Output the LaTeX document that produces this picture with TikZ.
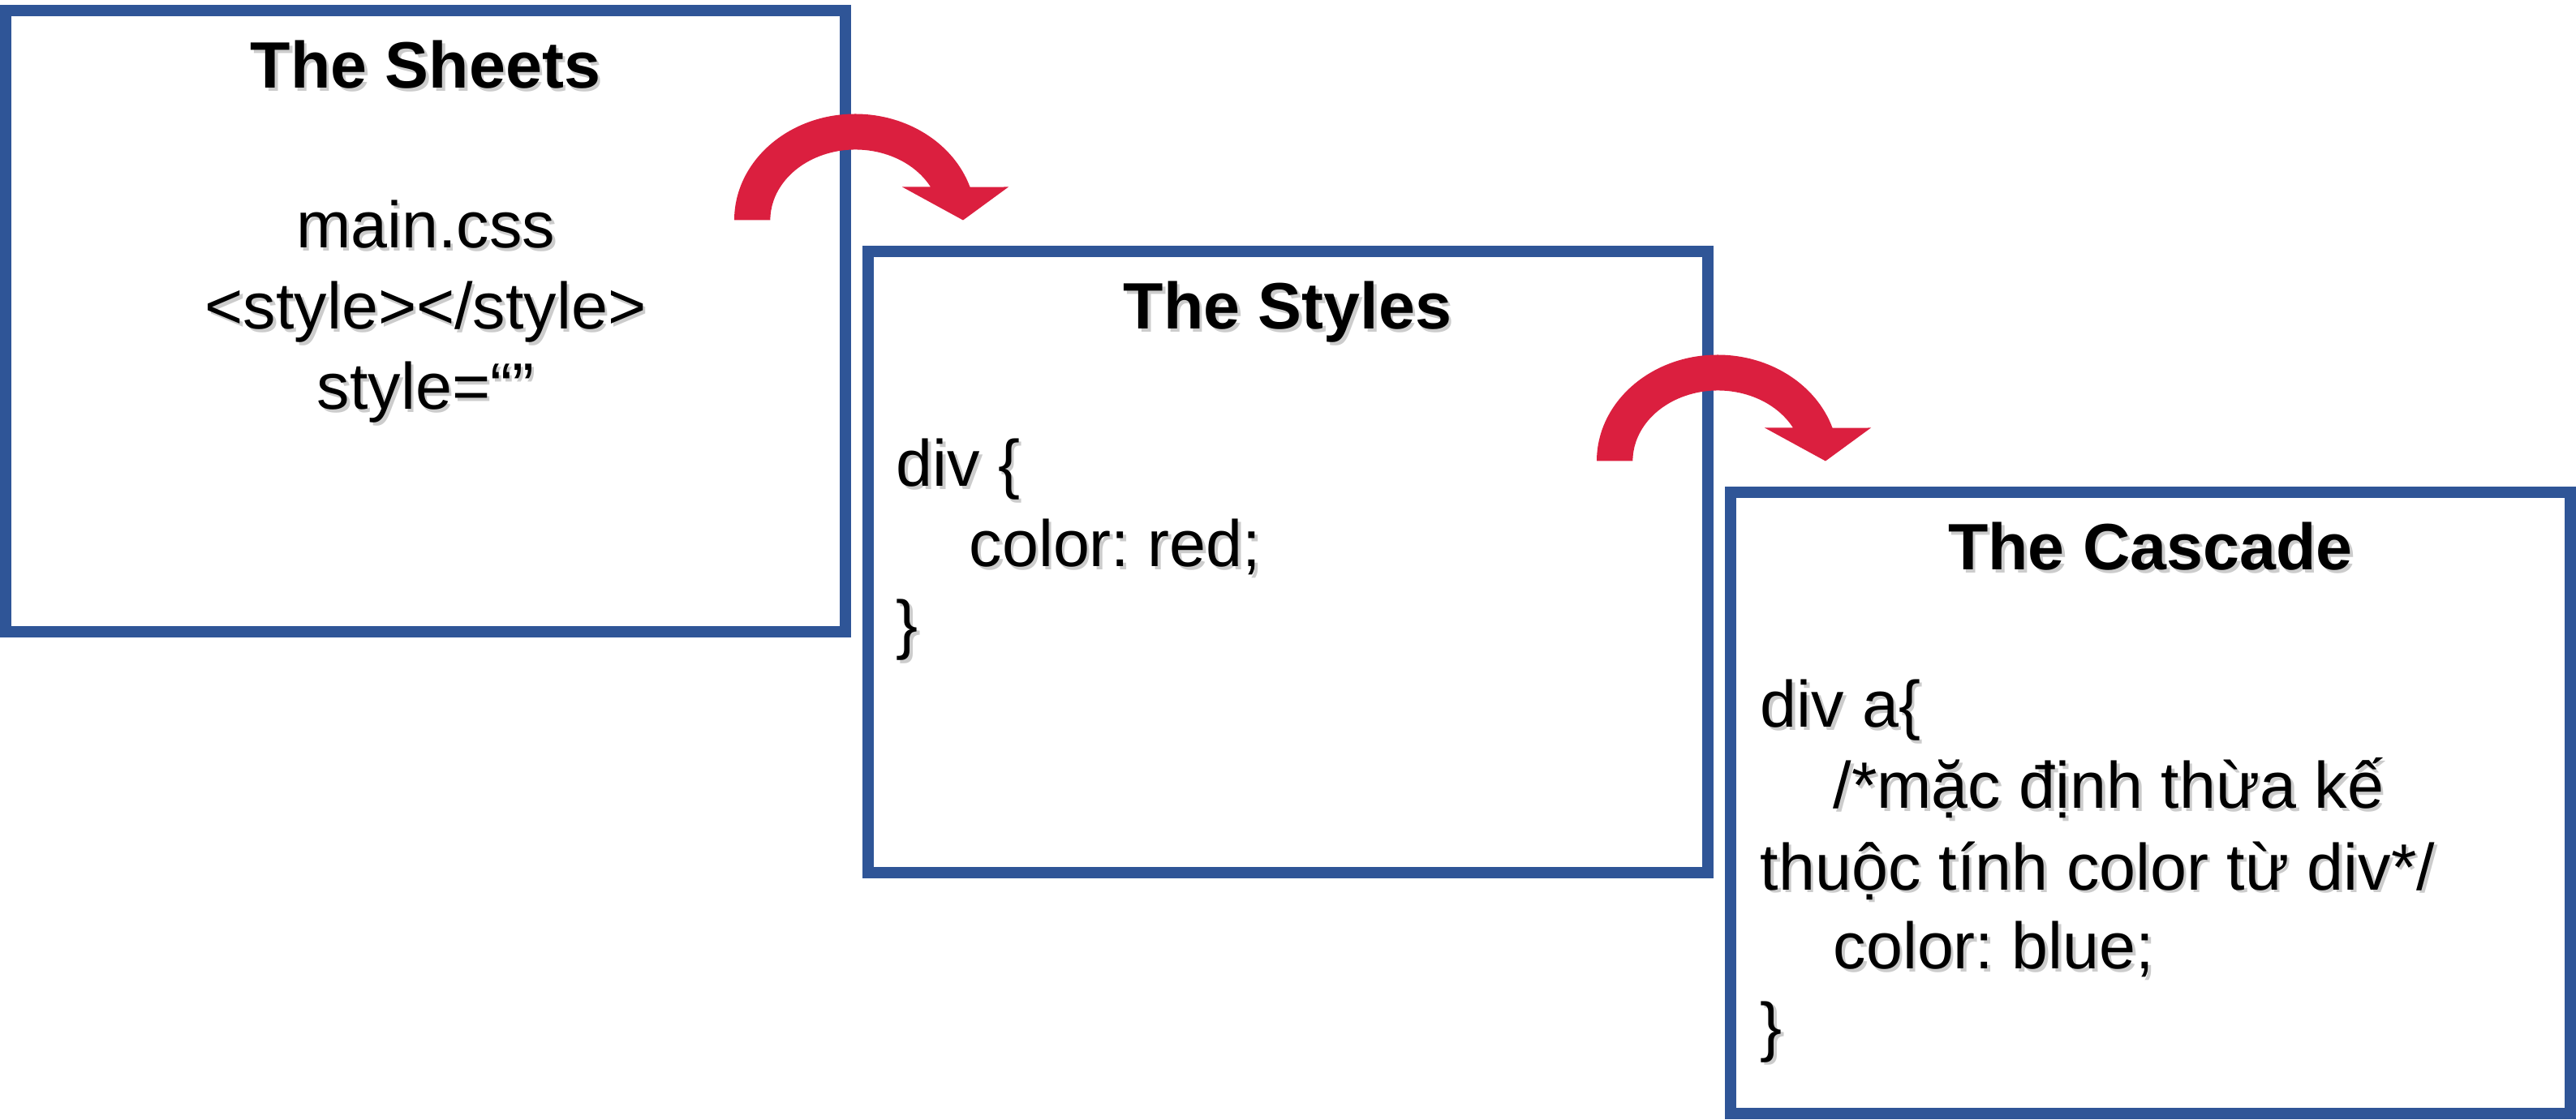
\documentclass[tikz,border=0pt]{standalone}
\usepackage{fontspec}
\setmainfont{Liberation Sans}
\frenchspacing
\definecolor{slideblue}{HTML}{2F5597}
\definecolor{arrowred}{HTML}{DB1F3F}
\usetikzlibrary{positioning, calc}
\newcommand{\shadowed}[1]{\leavevmode\rlap{\kern1pt\raisebox{-1pt}{\textcolor{black!20}{#1}}}#1}
\tikzset{
  pics/turnarrow/.style={code={
    \fill[arrowred] (-1.49,0) arc[start angle=180, end angle=18.2, x radius=1.49, y radius=1.31]
      -- (1.89,0.41) -- (1.33,0) -- (0.58,0.41) -- (0.93,0.41)
      arc[start angle=28.1, end angle=180, x radius=1.05, y radius=0.87] -- cycle;
  }}
}

\begin{document}
\begin{tikzpicture}[font=\fontsize{23}{28}\selectfont,
  panel/.style={draw=slideblue, line width=0.14cm, rectangle, minimum width=10.35cm,
    minimum height=7.66cm, inner sep=0pt, outer sep=0pt, anchor=north west},
  headtext/.style={font=\fontsize{23}{28}\selectfont\bfseries, anchor=base},
  codeline/.style={anchor=base west, inner sep=0pt}]
\useasboundingbox (0,0) rectangle (31.75,-13.81);

% The Sheets
\node[panel] (sheets) at (0.07,-0.13) {};
\node[headtext] (sheetsHead) at (5.245,-1.09) {\shadowed{The Sheets}};
\node[anchor=base] (sheetsA) at (5.245,-3.06) {\shadowed{main.css}};
\node[anchor=base] (sheetsB) at (5.245,-4.06) {\shadowed{<style></style>}};
\node[anchor=base] (sheetsC) at (5.245,-5.05) {\shadowed{style=“”}};

% The Styles
\node[panel] (styles) at (10.70,-3.10) {};
\node[headtext] (stylesHead) at (15.87,-4.06) {\shadowed{The Styles}};
\node[codeline] (stylesA) at (11.04,-6.00) {\shadowed{div \{}};
\node[codeline] (stylesB) at (11.94,-6.99) {\shadowed{color: red;}};
\node[codeline] (stylesC) at (11.04,-7.98) {\shadowed{\}}};

% The Cascade
\node[panel] (cascade) at (21.33,-6.07) {};
\node[headtext] (cascadeHead) at (26.505,-7.03) {\shadowed{The Cascade}};
\node[codeline] (cascadeA) at (21.69,-8.97) {\shadowed{div a\{}};
\node[codeline] (cascadeB) at (22.59,-9.97) {\shadowed{/*mặc định thừa kế}};
\node[codeline] (cascadeC) at (21.69,-10.97) {\shadowed{thuộc tính color từ div*/}};
\node[codeline] (cascadeD) at (22.59,-11.95) {\shadowed{color: blue;}};
\node[codeline] (cascadeE) at (21.69,-12.93) {\shadowed{\}}};

% turn arrows
\pic at ($(sheets.north east)+(0.12,-2.585)$) {turnarrow};
\pic at ($(styles.north east)+(0.12,-2.585)$) {turnarrow};
\end{tikzpicture}
\end{document}
